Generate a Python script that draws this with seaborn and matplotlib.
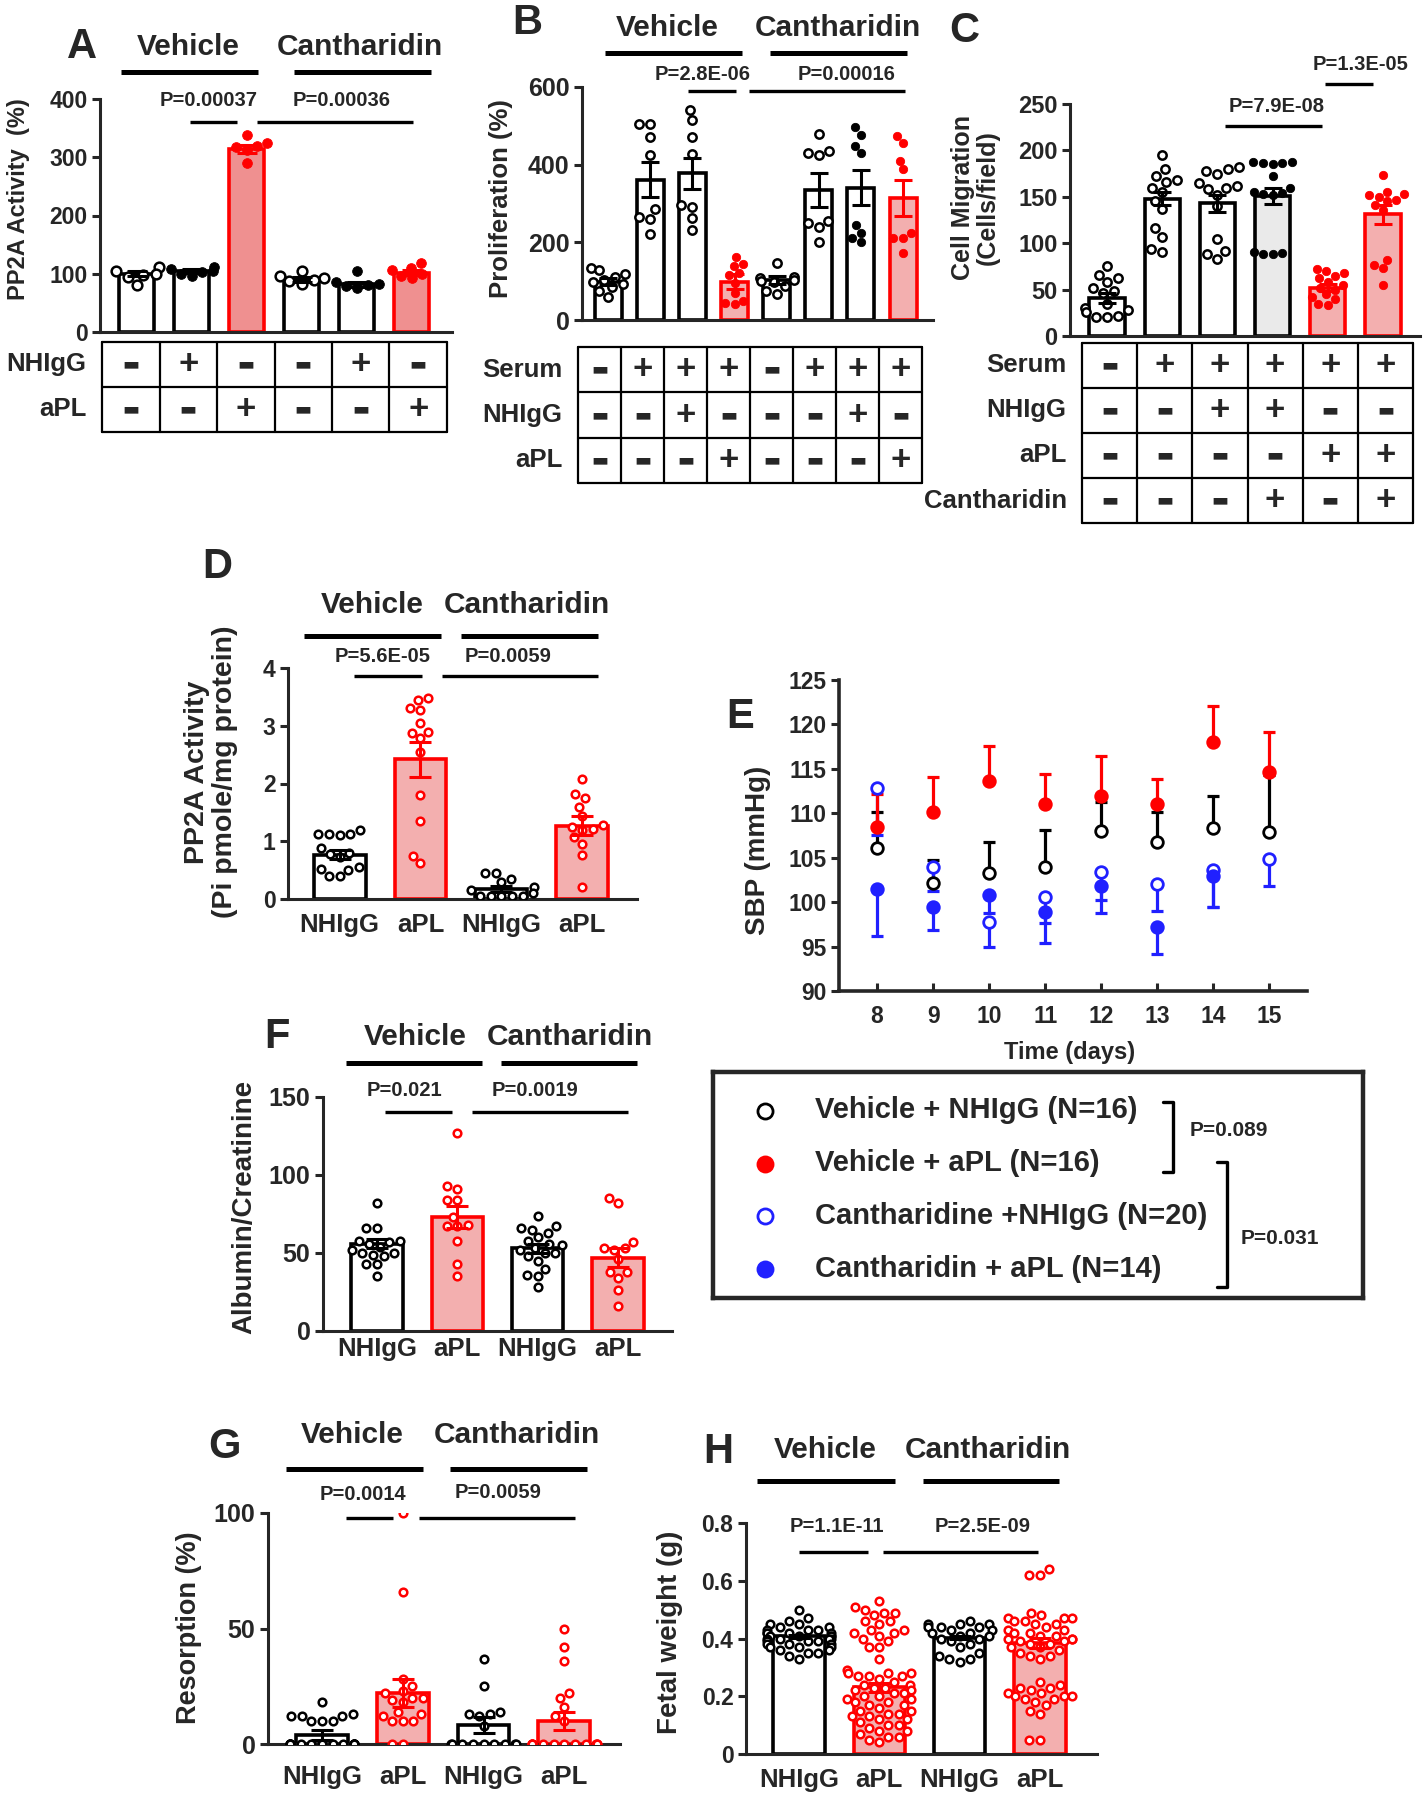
"""aPL / cantharidin figure (panels A-H) rebuilt with seaborn."""
import matplotlib

matplotlib.use("Agg")
import matplotlib.pyplot as plt
import numpy as np
import pandas as pd
import seaborn as sns
from matplotlib.lines import Line2D

W, H = 1426, 1800

# ---------------- data ----------------
# A: PP2A activity in cells (%)
a_groups = ["Veh", "Veh NHIgG", "Veh aPL", "Can", "Can NHIgG", "Can aPL"]
a_mean = [100, 105, 314, 90, 82, 102]
a_sem = [4, 3, 7, 4, 4, 4]
a_points = [
    [112, 104, 100, 98, 95, 80],
    [112, 108, 105, 103, 100, 96],
    [339, 325, 320, 318, 312, 290],
    [104, 96, 92, 90, 87, 82],
    [105, 86, 83, 81, 79, 76],
    [118, 110, 107, 100, 96, 92],
]
a_nhigg = ["-", "+", "-", "-", "+", "-"]
a_apl = ["-", "-", "+", "-", "-", "+"]

# B: proliferation (%)
b_groups = ["V0", "V serum", "V NHIgG", "V aPL", "C0", "C serum", "C NHIgG", "C aPL"]
b_mean = [99, 361, 378, 99, 103, 335, 341, 314]
b_sem = [10, 45, 40, 20, 10, 43, 46, 47]
b_points = [
    [135, 128, 118, 112, 104, 98, 92, 84, 74, 58],
    [505, 505, 470, 425, 285, 265, 260, 222],
    [542, 515, 472, 428, 295, 290, 262, 232],
    [163, 145, 140, 120, 115, 95, 70, 50, 45, 40],
    [148, 112, 108, 104, 100, 98, 88, 75, 68],
    [478, 435, 430, 425, 255, 250, 240, 200],
    [496, 477, 448, 430, 245, 225, 210, 200],
    [474, 456, 410, 388, 225, 212, 210, 172],
]
b_serum = ["-", "+", "+", "+", "-", "+", "+", "+"]
b_nhigg = ["-", "-", "+", "-", "-", "-", "+", "-"]
b_apl = ["-", "-", "-", "+", "-", "-", "-", "+"]

# C: cell migration (cells/field)
c_groups = ["none", "serum", "NHIgG", "NHIgG+Can", "aPL", "aPL+Can"]
c_mean = [41, 148, 143, 151, 52, 131]
c_sem = [5, 7, 9, 9, 4, 10]
c_points = [
    [75, 66, 62, 58, 52, 48, 46, 35, 30, 28, 26, 22, 20, 20],
    [195, 180, 172, 168, 166, 160, 155, 146, 137, 116, 107, 94, 91],
    [182, 180, 178, 175, 165, 162, 160, 158, 152, 140, 105, 92, 88, 83],
    [187, 187, 186, 186, 185, 172, 159, 155, 154, 153, 152, 90, 89, 88, 88],
    [72, 70, 68, 65, 62, 58, 55, 52, 50, 45, 42, 40, 35, 33],
    [173, 155, 153, 152, 150, 147, 145, 141, 136, 82, 76, 73, 55],
]
c_serum = ["-", "+", "+", "+", "+", "+"]
c_nhigg = ["-", "-", "+", "+", "-", "-"]
c_apl = ["-", "-", "-", "-", "+", "+"]
c_canth = ["-", "-", "-", "+", "-", "+"]

# shared 4-group layout for D, F, G, H
four_groups = ["Vehicle NHIgG", "Vehicle aPL", "Cantharidin NHIgG", "Cantharidin aPL"]
four_ticks = ["NHIgG", "aPL", "NHIgG", "aPL"]

# D: PP2A activity in vivo (Pi pmole/mg protein)
d_mean = [0.77, 2.42, 0.17, 1.27]
d_sem = [0.07, 0.30, 0.05, 0.16]
d_points = [
    [1.2, 1.12, 1.12, 1.12, 1.1, 0.88, 0.8, 0.78, 0.72, 0.55, 0.52, 0.5, 0.4, 0.4],
    [3.48, 3.45, 3.3, 3.28, 3.05, 2.9, 2.88, 2.78, 2.55, 1.8, 1.35, 0.75, 0.62],
    [0.45, 0.45, 0.35, 0.3, 0.2, 0.15, 0.1, 0.05, 0.05, 0.05, 0.05, 0.05],
    [2.07, 1.82, 1.75, 1.6, 1.43, 1.28, 1.25, 1.22, 1.2, 1.08, 0.96, 0.77, 0.2],
]

# E: systolic blood pressure by day
e_days = [8, 9, 10, 11, 12, 13, 14, 15]
e_veh_nhigg = [106.1, 102.2, 103.3, 104.0, 108.0, 106.8, 108.4, 107.9]
e_veh_nhigg_sem = [4.0, 2.5, 3.5, 4.1, 3.3, 3.4, 3.6, 6.4]
e_veh_apl = [108.5, 110.1, 113.6, 111.0, 112.0, 111.0, 118.0, 114.7]
e_veh_apl_sem = [3.7, 4.0, 4.0, 3.4, 4.4, 2.9, 4.1, 4.5]
e_can_nhigg = [112.9, 104.0, 97.8, 100.6, 103.4, 102.0, 103.6, 104.8]
e_can_nhigg_sem = [5.3, 2.7, 2.9, 3.0, 3.2, 3.0, 4.1, 3.0]
e_can_apl = [101.5, 99.5, 100.8, 98.9, 101.8, 97.2, 102.9, np.nan]
e_can_apl_sem = [5.3, 2.6, 2.0, 3.5, 3.0, 3.0, 3.4, np.nan]
e_labels = [
    "Vehicle + NHIgG (N=16)",
    "Vehicle + aPL (N=16)",
    "Cantharidine +NHIgG (N=20)",
    "Cantharidin + aPL (N=14)",
]

# F: albumin/creatinine
f_mean = [56, 73, 53, 47]
f_sem = [3, 7, 3, 6]
f_points = [
    [82, 66, 66, 58, 58, 57, 56, 54, 52, 50, 50, 49, 48, 43, 43, 35],
    [127, 93, 91, 84, 84, 73, 68, 67, 67, 58, 43, 35],
    [74, 67, 66, 65, 63, 60, 58, 56, 55, 53, 52, 50, 50, 48, 45, 40, 36, 35, 28],
    [85, 82, 57, 53, 53, 52, 46, 38, 38, 34, 26, 16],
]

# G: resorption (%)
g_mean = [3.9, 22.2, 8.2, 9.9]
g_sem = [2.0, 6.0, 3.5, 4.0]
g_points = [
    [18, 13, 12, 12, 12, 10, 10, 10, 0, 0, 0, 0, 0, 0, 0, 0, 0, 0, 0, 0, 0, 0, 0, 0, 0],
    [100, 66, 28, 25, 23, 22, 20, 20, 19, 18, 14, 13, 12, 10, 10, 10, 0, 0],
    [37, 25, 14, 13, 13, 12, 8, 0, 0, 0, 0, 0, 0, 0, 0, 0],
    [50, 42, 36, 22, 20, 16, 12, 10, 0, 0, 0, 0, 0, 0, 0, 0, 0, 0, 0, 0],
]

# H: fetal weight (g)
h_mean = [0.407, 0.231, 0.403, 0.384]
h_sem = [0.006, 0.015, 0.006, 0.018]
h_points = [
    [0.50, 0.47, 0.46, 0.45, 0.45, 0.44, 0.44, 0.43, 0.43, 0.43, 0.42, 0.42, 0.42,
     0.42, 0.41, 0.41, 0.41, 0.41, 0.40, 0.40, 0.40, 0.40, 0.39, 0.39, 0.39, 0.38,
     0.38, 0.38, 0.37, 0.37, 0.37, 0.36, 0.36, 0.35, 0.35, 0.34, 0.33],
    [0.53, 0.51, 0.50, 0.49, 0.49, 0.48, 0.46, 0.46, 0.45, 0.43, 0.43, 0.42, 0.42,
     0.41, 0.40, 0.39, 0.37, 0.37, 0.33, 0.29, 0.28, 0.28, 0.28, 0.27, 0.27, 0.27,
     0.26, 0.25, 0.24, 0.24, 0.23, 0.23, 0.22, 0.22, 0.21, 0.21, 0.20, 0.20, 0.19,
     0.19, 0.18, 0.18, 0.17, 0.17, 0.16, 0.15, 0.15, 0.14, 0.14, 0.13, 0.13, 0.12,
     0.12, 0.11, 0.10, 0.10, 0.09, 0.08, 0.08, 0.07, 0.06, 0.06, 0.05, 0.04],
    [0.46, 0.45, 0.45, 0.45, 0.44, 0.44, 0.44, 0.43, 0.43, 0.42, 0.42, 0.41, 0.41,
     0.40, 0.40, 0.39, 0.38, 0.37, 0.35, 0.34, 0.33, 0.33, 0.32],
    [0.64, 0.62, 0.62, 0.49, 0.48, 0.47, 0.47, 0.47, 0.46, 0.46, 0.45, 0.45, 0.44,
     0.43, 0.43, 0.42, 0.42, 0.41, 0.41, 0.40, 0.40, 0.40, 0.39, 0.39, 0.38, 0.38,
     0.37, 0.37, 0.36, 0.35, 0.34, 0.34, 0.33, 0.25, 0.24, 0.23, 0.23, 0.22, 0.21,
     0.21, 0.20, 0.20, 0.20, 0.19, 0.19, 0.18, 0.17, 0.15, 0.14, 0.05, 0.05],
]

# ---------------- style ----------------
sns.set_style("ticks")
plt.rcParams["font.family"] = ["Liberation Sans", "DejaVu Sans"]
plt.rcParams["font.weight"] = "bold"
plt.rcParams["axes.labelweight"] = "bold"
plt.rcParams["axes.linewidth"] = 2.2

K, R, B = "#000000", "#FF0000", "#2020FF"
PINK_A, PINK, GREY, WHITE = "#FF8080", "#FFA3A3", "#EAEAEA", "#FFFFFF"

fig = plt.figure(figsize=(W / 100, H / 100), dpi=100)


def px_axes(rect):
    left, top, right, bottom = rect
    return fig.add_axes([left / W, 1 - bottom / H, (right - left) / W, (bottom - top) / H])


def ftext(x, y, s, size, **kw):
    kw.setdefault("ha", "center")
    kw.setdefault("va", "center")
    fig.text(x / W, 1 - y / H, s, fontsize=size, **kw)


def fline(x0, x1, y, lw):
    fig.add_artist(Line2D([x0 / W, x1 / W], [1 - y / H] * 2, color=K, lw=lw, solid_capstyle="butt"))


def ylabel_at(ax, rect, text, cx, cy, size, **kw):
    left, top, right, bottom = rect
    ax.set_ylabel(text, fontsize=size, linespacing=1.05, **kw)
    ax.yaxis.set_label_coords((cx - left) / (right - left), (bottom - cy) / (bottom - top))
    ax.yaxis.label.set_va("center")


def bar_panel(ax, xlim, groups, means, sems, points, edges, fills, hollow,
              ylim, yticks, tick_size, pt_size=5.5, pt_lw=1.8, capsize=6.5):
    df = pd.DataFrame({"group": groups, "mean": means})
    sns.barplot(data=df, x="group", y="mean", hue="group", order=groups, hue_order=groups,
                palette=dict(zip(groups, fills)), width=0.64, linewidth=2.6,
                edgecolor=K, legend=False, ax=ax, zorder=1)
    for patch, ec in zip(ax.patches, edges):
        patch.set_edgecolor(ec)
    for g, vals, ec, is_open in zip(groups, points, edges, hollow):
        sns.swarmplot(x=[g] * len(vals), y=vals, order=groups, color=ec,
                      facecolor=WHITE if is_open else ec, edgecolor=ec,
                      linewidth=pt_lw if is_open else 0.6, size=pt_size, ax=ax,
                      zorder=3, warn_thresh=1)
    for i, (m, s, ec) in enumerate(zip(means, sems, edges)):
        ax.errorbar(i, m, yerr=s, fmt="none", ecolor=ec, elinewidth=2.2,
                    capsize=capsize, capthick=2.2, zorder=4)
    ax.set_xlim(*xlim)
    ax.set_ylim(*ylim)
    ax.set_yticks(yticks)
    ax.set_xlabel("")
    sns.despine(ax=ax)
    ax.tick_params(axis="y", length=6, width=2.2, labelsize=tick_size, pad=3)
    ax.tick_params(axis="x", length=0)


def draw_table(rect, rows, row_labels, label_size=18.5):
    ax = px_axes(rect)
    n = len(rows[0])
    ax.set_xlim(-0.5, n - 0.5)
    ax.set_ylim(len(rows), 0)
    ax.axis("off")
    for k in range(len(rows) + 1):
        ax.axhline(k, color=K, lw=1.6, clip_on=False)
    for j in range(n + 1):
        ax.axvline(j - 0.5, color=K, lw=1.6, clip_on=False)
    for r, (signs, lab) in enumerate(zip(rows, row_labels)):
        for j, s in enumerate(signs):
            if s == "+":
                ax.text(j, r + 0.5, "+", ha="center", va="center", fontsize=25, fontweight="bold")
            else:
                ax.text(j, r + 0.5, "\u25ac", ha="center", va="center", fontsize=13,
                        family="DejaVu Sans")
        ax.annotate(lab, xy=(0, r + 0.5), xycoords=("axes fraction", "data"),
                    xytext=(-11, 0), textcoords="offset points", ha="right", va="center",
                    fontsize=label_size, fontweight="bold")


def group_header(veh_xy, can_xy, line_y, spans, size=21.5):
    ftext(*veh_xy, "Vehicle", size)
    ftext(*can_xy, "Cantharidin", size)
    for x0, x1 in spans:
        fline(x0, x1, line_y, 3.6)


def p_bar(xy, text, line_y, span, size=14.5):
    ftext(*xy, text, size)
    fline(span[0], span[1], line_y, 2.4)


# ---------------- panel A ----------------
A_RECT = (100, 99, 452, 332)
ax = px_axes(A_RECT)
bar_panel(ax, (-0.67, 5.73), a_groups, a_mean, a_sem, a_points,
          [K, K, R, K, K, R], [WHITE, WHITE, PINK_A, WHITE, WHITE, PINK_A],
          [True, False, False, True, False, False],
          (0, 400), [0, 100, 200, 300, 400], 16.5, pt_size=7, capsize=7)
ax.set_xticks([])
ylabel_at(ax, A_RECT, "PP2A Activity  (%)", 19, 199, 17)
draw_table((102, 342, 447, 432), [a_nhigg, a_apl], ["NHIgG", "aPL"])
ftext(82, 47, "A", 30)
group_header((188, 47), (360, 47), 72, [(121, 258), (294, 431)])
p_bar((209, 100), "P=0.00037", 122, (190, 237))
p_bar((342, 100), "P=0.00036", 122, (257, 413))

# ---------------- panel B ----------------
B_RECT = (582, 87, 933, 320)
ax = px_axes(B_RECT)
bar_panel(ax, (-0.62, 7.71), b_groups, b_mean, b_sem, b_points,
          [K, K, K, R, K, K, K, R],
          [WHITE, WHITE, WHITE, PINK, WHITE, WHITE, WHITE, PINK],
          [True, True, True, False, True, True, False, False],
          (0, 600), [0, 200, 400, 600], 18, pt_size=6)
ax.set_xticks([])
ylabel_at(ax, B_RECT, "Proliferation (%)", 501, 199, 18.5)
draw_table((578, 347, 922, 483), [b_serum, b_nhigg, b_apl], ["Serum", "NHIgG", "aPL"])
ftext(527, 23, "B", 30)
group_header((667, 28), (838, 28), 53, [(605, 742), (770, 907)])
p_bar((703, 74), "P=2.8E-06", 91, (688, 736))
p_bar((847, 74), "P=0.00016", 91, (749, 905))

# ---------------- panel C ----------------
C_RECT = (1070, 104, 1420, 336)
ax = px_axes(C_RECT)
bar_panel(ax, (-0.67, 5.67), c_groups, c_mean, c_sem, c_points,
          [K, K, K, K, R, R], [WHITE, WHITE, WHITE, GREY, PINK, PINK],
          [True, True, True, False, False, False],
          (0, 250), [0, 50, 100, 150, 200, 250], 17, pt_size=6)
ax.set_xticks([])
ylabel_at(ax, C_RECT, "Cell Migration\n(Cells/field)", 975, 198, 18)
draw_table((1082, 343, 1413, 523), [c_serum, c_nhigg, c_apl, c_canth],
           ["Serum", "NHIgG", "aPL", "Cantharidin"])
ftext(964, 31, "C", 30)
p_bar((1277, 106), "P=7.9E-08", 126, (1225, 1322))
p_bar((1361, 64), "P=1.3E-05", 84, (1325, 1373))

# ---------------- panels D, F, G, H ----------------
FOUR_EDGES = [K, R, K, R]
FOUR_FILLS = [WHITE, PINK, WHITE, PINK]
FOUR_OPEN = [True, True, True, True]

D_RECT = (288, 668, 637, 899)
ax = px_axes(D_RECT)
bar_panel(ax, (-0.64, 3.68), four_groups, d_mean, d_sem, d_points, FOUR_EDGES,
          FOUR_FILLS, FOUR_OPEN, (0, 4), [0, 1, 2, 3, 4], 16.5, pt_size=5.5, capsize=8)
ax.set_xticks(range(4), four_ticks, fontsize=18.5)
ax.tick_params(axis="x", pad=10)
ylabel_at(ax, D_RECT, "PP2A Activity\n(Pi pmole/mg protein)", 211, 772, 20.5)
ftext(217, 567, "D", 30)
group_header((372, 605), (527, 605), 636, [(304, 441), (461, 598)])
p_bar((383, 657), "P=5.6E-05", 676, (354, 422))
p_bar((508, 657), "P=0.0059", 676, (442, 598))

F_RECT = (323, 1097, 672, 1331)
ax = px_axes(F_RECT)
bar_panel(ax, (-0.67, 3.67), four_groups, f_mean, f_sem, f_points, FOUR_EDGES,
          FOUR_FILLS, FOUR_OPEN, (0, 150), [0, 50, 100, 150], 18, pt_size=5.5, capsize=8)
ax.set_xticks(range(4), four_ticks, fontsize=18.5)
ax.tick_params(axis="x", pad=4)
ylabel_at(ax, F_RECT, "Albumin/Creatinine", 244, 1207, 20)
ftext(277, 1037, "F", 30)
group_header((415, 1037), (570, 1037), 1063, [(346, 482), (501, 637)])
p_bar((404, 1090), "P=0.021", 1112, (385, 452))
p_bar((535, 1090), "P=0.0019", 1112, (472, 628))

G_RECT = (268, 1513, 620, 1744)
ax = px_axes(G_RECT)
bar_panel(ax, (-0.67, 3.69), four_groups, g_mean, g_sem, g_points, FOUR_EDGES,
          FOUR_FILLS, FOUR_OPEN, (0, 100), [0, 50, 100], 18, pt_size=5.5, capsize=8)
ax.set_xticks(range(4), four_ticks, fontsize=18.5)
ax.tick_params(axis="x", pad=15)
ylabel_at(ax, G_RECT, "Resorption (%)", 189, 1628, 19.5)
ftext(225, 1447, "G", 30)
group_header((352, 1435), (517, 1435), 1469, [(286, 423), (450, 587)])
p_bar((363, 1495), "P=0.0014", 1518, (346, 393))
p_bar((498, 1493), "P=0.0059", 1518, (419, 575))

H_RECT = (746, 1523, 1097, 1754)
ax = px_axes(H_RECT)
bar_panel(ax, (-0.66, 3.71), four_groups, h_mean, h_sem, h_points, FOUR_EDGES,
          FOUR_FILLS, FOUR_OPEN, (0, 0.8), [0, 0.2, 0.4, 0.6, 0.8], 16.5, pt_size=5.5,
          capsize=8)
ax.set_yticklabels(["0", "0.2", "0.4", "0.6", "0.8"])
ax.set_xticks(range(4), four_ticks, fontsize=18.5)
ax.tick_params(axis="x", pad=10)
ylabel_at(ax, H_RECT, "Fetal weight (g)", 670, 1632, 20)
ftext(718, 1452, "H", 30)
group_header((825, 1450), (988, 1450), 1481, [(757, 895), (923, 1059)])
p_bar((837, 1527), "P=1.1E-11", 1552, (799, 868))
p_bar((983, 1527), "P=2.5E-09", 1552, (883, 1038))

# ---------------- panel E ----------------
E_RECT = (839, 680, 1307, 991)
ax = px_axes(E_RECT)
series = [
    (e_veh_nhigg, e_veh_nhigg_sem, K, True, "up"),
    (e_can_nhigg, e_can_nhigg_sem, B, True, "down"),
    (e_can_apl, e_can_apl_sem, B, False, "down"),
    (e_veh_apl, e_veh_apl_sem, R, False, "up"),
]
handles = {}
for vals, sems, col, is_open, side in series:
    sems = np.asarray(sems, dtype=float)
    zero = np.zeros_like(sems)
    yerr = [zero, sems] if side == "up" else [sems, zero]
    ax.errorbar(e_days, vals, yerr=yerr, fmt="none", ecolor=col, elinewidth=2.3,
                capsize=4.5, capthick=2.3, zorder=2)
    sns.scatterplot(x=e_days, y=vals, ax=ax, color=col, marker="o", s=70,
                    facecolor=WHITE if is_open else col, edgecolor=col,
                    linewidth=2.0, zorder=3)
    handles[(col, is_open)] = ax.collections[-1]
ax.set_xlim(7.32, 15.67)
ax.set_ylim(90, 125)
ax.set_xticks(e_days)
ax.set_yticks([90, 95, 100, 105, 110, 115, 120, 125])
sns.despine(ax=ax)
for side in ("left", "bottom"):
    ax.spines[side].set_linewidth(2.6)
ax.tick_params(axis="y", length=6, width=2.2, pad=3, labelsize=16.5)
ax.tick_params(axis="x", direction="in", length=6, width=2.2, pad=10, labelsize=16.5)
ylabel_at(ax, E_RECT, "SBP (mmHg)", 758, 850, 20)
ax.set_xlabel("Time (days)", fontsize=17)
ax.xaxis.set_label_coords((1070 - 839) / 468, (991 - 1053) / 311)
ax.xaxis.label.set_va("center")
ftext(740, 717, "E", 30)

# legend box for E
LEG_RECT = (713, 1072, 1363, 1298)
lw_, lh_ = LEG_RECT[2] - LEG_RECT[0], LEG_RECT[3] - LEG_RECT[1]
lax = px_axes(LEG_RECT)
lax.set_xticks([])
lax.set_yticks([])
lax.set_xlim(0, 1)
lax.set_ylim(0, 1)
for sp in lax.spines.values():
    sp.set_linewidth(3.2)
leg_size = 21
leg_em = leg_size * 100 / 72
leg_handles = [handles[(K, True)], handles[(R, False)], handles[(B, True)], handles[(B, False)]]
lax.legend(leg_handles, e_labels, loc="upper left",
           bbox_to_anchor=((765 - 0.5 * leg_em - 713) / lw_, (1298 - 1110 + 0.47 * leg_em) / lh_),
           frameon=False, borderpad=0, borderaxespad=0, handlelength=1.0,
           handletextpad=(50 - 0.5 * leg_em) / leg_em, labelspacing=(52 - 0.93 * leg_em) / leg_em,
           scatterpoints=1, markerscale=1.3,
           prop=dict(weight="bold", size=leg_size))
# brackets with P values
lax.plot([0.693, 0.707, 0.707, 0.693], [0.867, 0.867, 0.558, 0.558], color=K, lw=2.4)
lax.plot([0.776, 0.79, 0.79, 0.776], [0.602, 0.602, 0.049, 0.049], color=K, lw=2.4)
lax.text(0.734, 0.743, "P=0.089", ha="left", va="center", fontsize=15)
lax.text(0.811, 0.265, "P=0.031", ha="left", va="center", fontsize=15)

fig.savefig("out.png", dpi=100)
